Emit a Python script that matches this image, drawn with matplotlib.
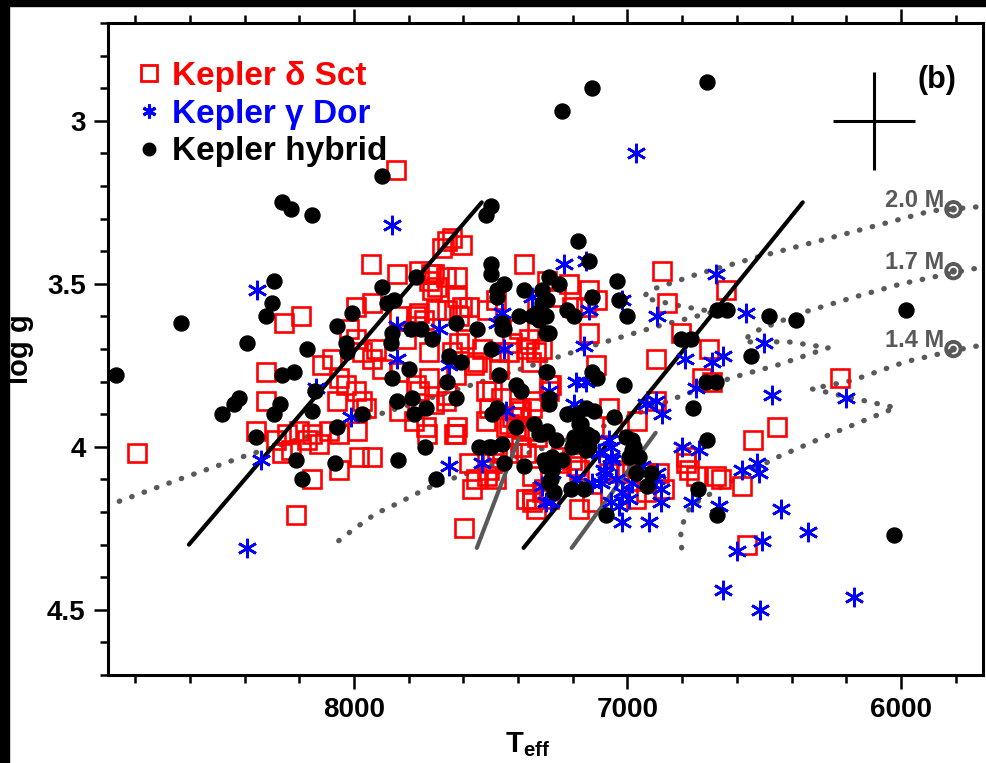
import numpy as np
import matplotlib.pyplot as plt
import matplotlib.patheffects as pe
from matplotlib.lines import Line2D
from matplotlib.patches import Rectangle
from matplotlib.ticker import MultipleLocator, FormatStrFormatter

plt.rcParams['font.family'] = ['Liberation Sans', 'DejaVu Sans']
plt.rcParams['font.weight'] = 'bold'
plt.rcParams['axes.labelweight'] = 'bold'
plt.rcParams['mathtext.fontset'] = 'custom'
plt.rcParams['mathtext.rm'] = 'Liberation Sans:bold'
plt.rcParams['mathtext.bf'] = 'Liberation Sans:bold'
plt.rcParams['mathtext.it'] = 'Liberation Sans:bold'

# Kepler delta Sct stars
dsct_teff = [7848, 7939, 7844, 7763, 7709, 7661, 7679, 7665, 7698, 7727, 7774, 7837, 7935, 7994, 8195, 8257,
             8794, 8213, 7599, 8323, 8323, 8359, 8286, 8246, 8202, 8231, 8264, 8173, 8129, 8155, 8093, 8056,
             7990, 8063, 8118, 8082, 8056, 8030, 7972, 7957, 7994, 8019, 7994, 7972, 7921, 7935, 7899, 7837,
             7774, 7837, 7782, 7763, 7774, 7811, 7643, 7617, 7562, 7709, 7665, 7734, 7625, 7628, 7581, 7555,
             7515, 7497, 7533, 7471, 7423, 7372, 7336, 7497, 7398, 7343, 7336, 7350, 7306, 7661, 7581, 7983,
             8056, 8155, 7935, 7701, 7643, 7606, 7720, 7625, 7716, 7625, 7380, 7296, 7215, 7142, 7113, 7153,
             7204, 7263, 7332, 7482, 7515, 7617, 7606, 7745, 7727, 7398, 7361, 7314, 7142, 7116, 7354, 7434,
             7592, 7551, 7628, 7471, 6875, 6641, 6857, 6806, 6703, 6897, 7281, 6692, 6729, 6221, 6455, 6542,
             6659, 6583, 6787, 6751, 6564, 7288, 7350, 7423, 7391, 7332, 7252, 7189, 7350, 7314, 7372, 7069,
             7007, 6934, 6970, 7168, 7094, 7460, 7423, 7372, 7445, 6934, 7636, 7738, 7570, 7482, 7508, 7478,
             7391, 7350, 7288, 7204, 7179, 7131, 7179, 7244, 7069, 7058, 6966, 6897, 6985, 7032, 6886, 6868,
             6787, 6776, 6678, 7727, 7661, 7763, 7519, 7464, 7508, 7398, 7288, 7519, 7434, 7409, 7372]
dsct_logg = [3.15, 3.44, 3.47, 3.46, 3.47, 3.37, 3.39, 3.48, 3.51, 3.49, 3.60, 3.60, 3.56, 3.57, 3.60, 3.62,
             4.02, 4.21, 4.25, 3.77, 3.86, 3.95, 3.98, 3.96, 3.95, 4.01, 4.02, 3.98, 3.99, 3.96, 3.95, 3.96,
             3.95, 3.86, 3.75, 3.73, 3.79, 3.81, 3.86, 3.88, 3.83, 3.64, 3.67, 3.71, 3.70, 3.73, 3.76, 3.77,
             3.81, 3.89, 3.92, 3.59, 3.63, 3.67, 3.71, 3.68, 3.75, 3.87, 3.86, 3.96, 3.94, 3.96, 4.05, 4.10,
             4.09, 4.05, 3.70, 3.71, 3.68, 3.70, 3.71, 3.83, 3.88, 3.86, 4.19, 4.16, 4.13, 3.58, 3.57, 4.03,
             4.07, 4.10, 4.03, 3.58, 3.36, 3.38, 3.47, 3.48, 3.52, 3.54, 3.44, 3.49, 3.50, 3.52, 3.55, 3.57,
             3.57, 3.54, 3.55, 3.55, 3.58, 3.60, 3.57, 3.61, 3.71, 3.64, 3.67, 3.70, 3.65, 3.75, 3.74, 3.71,
             3.67, 3.74, 3.78, 3.76, 3.46, 3.52, 3.56, 3.65, 3.70, 3.73, 3.81, 3.80, 3.79, 3.79, 3.94, 3.98,
             4.10, 4.12, 4.05, 4.09, 4.30, 3.83, 3.88, 3.91, 3.89, 3.97, 4.05, 4.06, 4.17, 4.14, 4.16, 4.08,
             4.08, 4.14, 4.16, 3.99, 4.00, 4.02, 4.02, 4.02, 3.94, 4.08, 3.96, 3.94, 4.13, 4.10, 4.07, 4.01,
             4.00, 4.09, 4.16, 4.04, 4.07, 4.17, 4.19, 4.03, 3.88, 3.94, 3.92, 3.86, 4.06, 4.07, 4.08, 4.13,
             4.03, 4.07, 4.09, 3.79, 3.84, 3.83, 3.83, 3.85, 3.88, 3.91, 3.81, 3.92, 3.93, 3.94, 3.95]

# Kepler gamma Dor stars
gdor_teff = [6970, 7862, 8356, 8341, 8392, 8140, 8012, 7844, 7844, 7690, 7654, 7460, 7453, 7445, 7654, 7533,
             7314, 7299, 7233, 7153, 7021, 7142, 7350, 7160, 6893, 6678, 6568, 6502, 6652, 6692, 6791, 6751,
             6473, 6202, 6897, 6875, 7189, 7153, 6802, 6740, 6583, 6528, 6520, 6440, 6338, 6509, 6601, 6667,
             6765, 6923, 7021, 6879, 6879, 6893, 6948, 7062, 7062, 7080, 7021, 7281, 7288, 7197, 7069, 7058,
             7087, 7098, 7043, 6996, 7062, 7032, 6985, 6897, 6934, 7105, 7131, 7189, 7277, 6173, 6517, 6652,
             7478]
gdor_logg = [3.10, 3.32, 3.52, 4.04, 4.31, 3.82, 3.91, 3.63, 3.73, 3.64, 3.75, 3.59, 3.70, 3.89, 4.06, 4.05,
             4.12, 4.17, 3.44, 3.43, 3.55, 3.58, 3.54, 3.69, 3.60, 3.47, 3.59, 3.68, 3.72, 3.74, 3.73, 3.82,
             3.84, 3.85, 3.86, 3.90, 3.80, 3.80, 4.00, 4.01, 4.07, 4.05, 4.08, 4.19, 4.26, 4.29, 4.32, 4.18,
             4.17, 4.23, 4.23, 4.17, 4.13, 4.08, 4.06, 4.03, 4.00, 4.08, 4.14, 4.17, 3.83, 3.87, 3.98, 4.04,
             4.07, 4.11, 4.10, 4.16, 4.17, 4.18, 4.11, 4.10, 3.87, 4.02, 4.11, 4.10, 4.08, 4.46, 4.50, 4.44,
             3.62]

# Kepler hybrids
hyb_teff = [6711, 7131, 7241, 7899, 8264, 8231, 8155, 7500, 7519, 7182, 7142, 8294, 7774, 7899, 8301, 8323,
            8634, 7880, 7855, 8008, 8063, 8871, 8392, 8264, 8220, 8422, 8440, 8484, 8359, 8272, 8294, 8144,
            8155, 8173, 8030, 8027, 8213, 8191, 8071, 8063, 7972, 7862, 7866, 7862, 7800, 7793, 7756, 7716,
            7628, 7551, 7654, 7610, 7661, 7628, 7844, 7789, 7738, 7782, 7742, 7840, 7701, 7500, 7471, 7460,
            7398, 7350, 7299, 7299, 7409, 7391, 7497, 7478, 7409, 7343, 7314, 7544, 7500, 7460, 7453, 7380,
            7306, 7500, 7500, 7453, 7478, 7478, 7380, 7288, 7252, 7314, 7296, 7314, 7336, 7299, 7325, 7460,
            7453, 7040, 7032, 7003, 7131, 7222, 7197, 7288, 7131, 7113, 7014, 6806, 6769, 6674, 6637, 6550,
            6714, 6678, 5983, 6484, 6385, 6762, 6711, 6743, 6674, 6027, 7051, 7153, 7171, 7149, 7189, 7142,
            6985, 6985, 6959, 6970, 6915, 6930, 7080, 7160, 7208, 7270, 7288, 7299, 7277, 7288, 7288, 7296,
            7222, 7186, 7124, 7179, 7325, 7296, 7263, 7197, 7160, 7131, 7204, 7153, 7508, 7241, 7277, 7281,
            7007, 6977, 6996]
hyb_logg = [2.88, 2.90, 2.97, 3.17, 3.25, 3.27, 3.29, 3.26, 3.29, 3.37, 3.43, 3.49, 3.48, 3.51, 3.56, 3.60,
            3.62, 3.56, 3.55, 3.59, 3.63, 3.78, 3.68, 3.78, 3.77, 3.85, 3.87, 3.90, 3.97, 3.87, 3.90, 3.83,
            3.89, 3.70, 3.68, 3.71, 4.04, 4.10, 4.05, 3.94, 3.90, 3.65, 3.68, 3.79, 3.76, 3.64, 3.64, 3.67,
            3.62, 3.64, 3.72, 3.74, 3.80, 3.85, 3.86, 3.85, 3.88, 3.90, 4.00, 4.04, 4.10, 3.70, 3.78, 3.64,
            3.60, 3.60, 3.65, 3.77, 3.81, 3.83, 3.90, 3.88, 3.94, 3.93, 3.96, 4.00, 4.00, 3.99, 4.05, 4.06,
            4.04, 3.44, 3.47, 3.50, 3.52, 3.54, 3.52, 3.48, 3.50, 3.52, 3.55, 3.56, 3.59, 3.60, 3.61, 3.62,
            3.64, 3.49, 3.55, 3.60, 3.54, 3.58, 3.60, 3.65, 3.77, 3.79, 3.81, 3.67, 3.67, 3.58, 3.58, 3.72,
            3.80, 3.80, 3.58, 3.60, 3.61, 3.88, 3.98, 4.13, 4.21, 4.27, 3.91, 3.88, 3.93, 3.96, 3.97, 4.00,
            3.98, 4.01, 4.03, 4.08, 4.08, 4.12, 4.21, 4.13, 4.13, 4.14, 4.11, 4.06, 4.03, 3.87, 3.85, 3.77,
            3.90, 3.90, 3.89, 3.93, 3.96, 3.95, 3.98, 3.97, 3.97, 3.97, 4.00, 4.01, 4.00, 4.04, 4.07, 4.10,
            3.97, 4.00, 4.03]

# evolutionary tracks
trk20_teff = [8904, 8634, 8385, 7983, 7581, 7105, 6886, 6685, 6813, 6941, 6923, 6740, 6520, 6191, 5888, 5680]
trk20_logg = [4.181, 4.098, 4.024, 3.920, 3.813, 3.684, 3.629, 3.586, 3.567, 3.543, 3.521, 3.469, 3.417,
              3.344, 3.276, 3.261]
trk17_teff = [8056, 8008, 7921, 7837, 7738, 7643, 7544, 7252, 6959, 6802, 6619, 6447, 6265, 6411, 6575,
              6546, 6363, 6155, 5998, 5808, 5680]
trk17_logg = [4.288, 4.257, 4.205, 4.172, 4.129, 4.098, 4.070, 3.988, 3.896, 3.843, 3.788, 3.748, 3.696,
              3.678, 3.678, 3.650, 3.589, 3.537, 3.500, 3.466, 3.445]
trk14_teff = [6802, 6806, 6769, 6630, 6458, 6254, 6020, 6327, 6180, 5983, 5808, 5680]
trk14_logg = [4.310, 4.251, 4.181, 4.110, 4.034, 3.960, 3.880, 3.822, 3.797, 3.739, 3.705, 3.684]
trk_names = ['2.0', '1.7', '1.4']
trk_label_logg = [3.245, 3.435, 3.675]
trk_sun_logg = [3.276, 3.466, 3.705]

# instability strip edges
edge_black_teff = [[8604, 7533], [7380, 6359]]
edge_black_logg = [[4.30, 3.25], [4.31, 3.25]]
edge_gray_teff = [[7551, 7398], [7204, 6897]]
edge_gray_logg = [[4.31, 3.975], [4.31, 3.957]]

# typical error bar
err_teff, err_logg = 6100, 3.0
err_dteff, err_dlogg = 150, 0.15

GRAY = '#595959'

fig = plt.figure(figsize=(9.86, 7.63), dpi=100)
ax = fig.add_axes([0.1095, 0.1153, 0.8874, 0.8545])

for t, g in [(trk20_teff, trk20_logg), (trk17_teff, trk17_logg), (trk14_teff, trk14_logg)]:
    ax.plot(t, g, color=GRAY, lw=3.8, ls=(0, (0.1, 2.4)), dash_capstyle='round', zorder=1)

ax.plot(dsct_teff, dsct_logg, ls='none', marker='s', ms=13, mfc='none', mec='red', mew=1.9, zorder=2)

for t, g in zip(edge_black_teff, edge_black_logg):
    ax.plot(t, g, color='black', lw=3.0, solid_capstyle='round', zorder=3)
for t, g in zip(edge_gray_teff, edge_gray_logg):
    ax.plot(t, g, color=GRAY, lw=3.0, solid_capstyle='round', zorder=3)

ax.plot(gdor_teff, gdor_logg, ls='none', marker=(6, 2, 0), ms=14, color='blue', mew=1.9, zorder=4)
ax.plot(hyb_teff, hyb_logg, ls='none', marker='o', ms=10.8, color='black', zorder=5)

ax.errorbar(err_teff, err_logg, xerr=err_dteff, yerr=err_dlogg, fmt='none', ecolor='black',
            elinewidth=2.2, capsize=0, zorder=6)

# mass labels, with the solar symbol sitting on the track
for name, gl, gs in zip(trk_names, trk_label_logg, trk_sun_logg):
    ax.text(5842, gl, name + ' M', ha='right', va='center', color=GRAY, fontsize=17, zorder=6)
    ax.text(5808, gs, '☉', ha='center', va='center', color=GRAY, fontsize=15, fontweight='bold',
            family=['DejaVu Sans'], zorder=6,
            path_effects=[pe.withStroke(linewidth=2.2, foreground=GRAY)])

ax.text(0.947, 0.913, '(b)', transform=ax.transAxes, ha='center', va='center', fontsize=22)

handles = [Line2D([], [], ls='none', marker='s', ms=11, mfc='none', mec='red', mew=2.0),
           Line2D([], [], ls='none', marker=(6, 2, 0), ms=10, color='blue', mew=2.2),
           Line2D([], [], ls='none', marker='o', ms=9, color='black')]
labels = ['Kepler δ Sct', 'Kepler γ Dor', 'Kepler hybrid']
ax.legend(handles, labels, loc='upper left', bbox_to_anchor=(0.033, 0.942), frameon=False, fontsize=24,
          handlelength=0.75, handletextpad=0.3, labelspacing=0.2, borderpad=0, borderaxespad=0,
          labelcolor=['red', 'blue', 'black'])

ax.set_xlim(8900, 5700)
ax.set_ylim(4.7, 2.7)
ax.xaxis.set_major_locator(MultipleLocator(1000))
ax.xaxis.set_minor_locator(MultipleLocator(200))
ax.yaxis.set_major_locator(MultipleLocator(0.5))
ax.yaxis.set_minor_locator(MultipleLocator(0.1))
ax.yaxis.set_major_formatter(FormatStrFormatter('%g'))
ax.tick_params(which='both', direction='out', top=True, width=1.8, labelsize=20, pad=6)
ax.tick_params(which='major', length=10)
ax.tick_params(which='minor', length=5.5)
for s in ax.spines.values():
    s.set_linewidth(2.2)

ax.set_xlabel(r'T$_{\mathbf{eff}}$', fontsize=21, labelpad=2)
ax.xaxis.set_label_coords(0.48, -0.085)
ax.set_ylabel('log g', fontsize=21, labelpad=9)

fig.add_artist(Rectangle((0, 1 - 6 / 763), 1, 6 / 763, transform=fig.transFigure, color='black', zorder=10))
fig.add_artist(Rectangle((0, 0), 9 / 986, 1, transform=fig.transFigure, color='black', zorder=10))

fig.savefig('out.png', dpi=100)
